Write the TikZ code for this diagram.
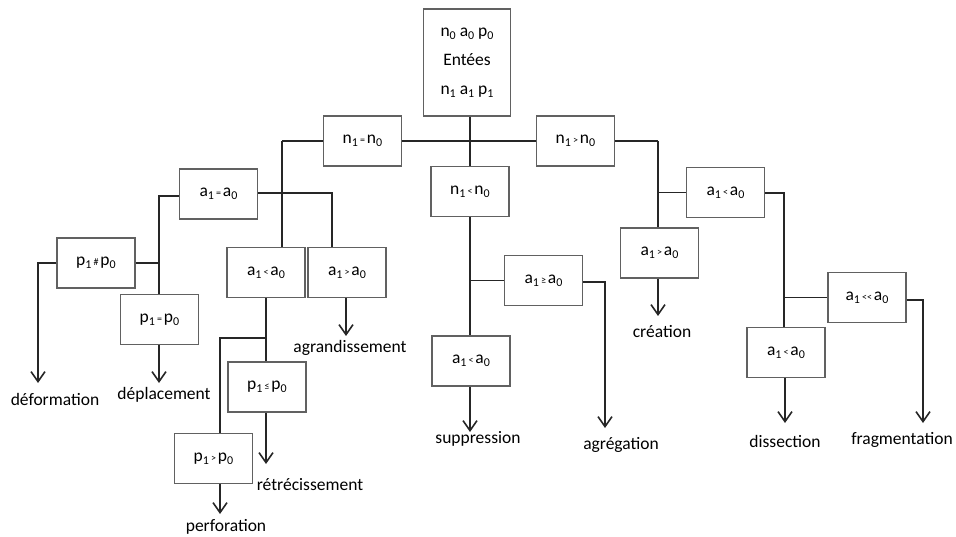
\documentclass[tikz,border=0pt]{standalone}
\usepackage{fontspec}
\setmainfont{Carlito}
\usetikzlibrary{arrows.meta}
\newcommand\lo[1]{\raisebox{-0.35ex}{\fontsize{12}{12}\selectfont #1}}
\newcommand\rl[1]{\hspace{2pt}{\fontsize{10}{10}\selectfont #1}\hspace{2pt}}
\begin{document}
\begin{tikzpicture}[x=1pt,y=-1pt,
  box/.style={draw=black!62,line width=1.4pt,minimum width=78pt,minimum height=50pt,inner sep=0pt,font=\fontsize{17.5}{20}\selectfont},
  lab/.style={font=\fontsize{17.5}{20}\selectfont,inner sep=0pt},
  conn/.style={line width=1.8pt,draw=black!85},
  arr/.style={conn,-{Straight Barb[length=10pt,width=14pt,line width=1.6pt]}}]
\useasboundingbox (0,0) rectangle (956,537);
% boxes
\node[box,minimum width=87pt,minimum height=107pt,align=center,font=\fontsize{17.5}{29}\selectfont] (root) at (467,62.5) {n\lo{0} a\lo{0} p\lo{0}\\Entées\\n\lo{1} a\lo{1} p\lo{1}};
\node[box] (n1eq) at (362.5,141) {n\lo{1}\rl{=}n\lo{0}};
\node[box] (n1gt) at (575.5,141) {n\lo{1}\rl{>}n\lo{0}};
\node[box] (n1lt) at (470,191.5) {n\lo{1}\rl{<}n\lo{0}};
\node[box] (a1eq) at (218.5,194) {a\lo{1}\rl{=}a\lo{0}};
\node[box] (a1lt) at (266,272.5) {a\lo{1}\rl{<}a\lo{0}};
\node[box] (a1gt) at (347,272.5) {a\lo{1}\rl{>}a\lo{0}};
\node[box] (p1ne) at (96,263) {p\lo{1}\rl{\#}p\lo{0}};
\node[box] (p1eq) at (159.5,319.5) {p\lo{1}\rl{=}p\lo{0}};
\node[box] (p1le) at (267,387) {p\lo{1}\rl{≤}p\lo{0}};
\node[box] (p1gt) at (213.5,458.5) {p\lo{1}\rl{>}p\lo{0}};
\node[box] (a1ge) at (543.5,280.5) {a\lo{1}\rl{≥}a\lo{0}};
\node[box] (a1ltm) at (471,361) {a\lo{1}\rl{<}a\lo{0}};
\node[box] (a1ltr) at (725.5,192.5) {a\lo{1}\rl{<}a\lo{0}};
\node[box] (a1gtr) at (659.5,253) {a\lo{1}\rl{>}a\lo{0}};
\node[box] (a1ll) at (867,297.5) {a\lo{1}\rl{<{}<}a\lo{0}};
\node[box] (a1ltr2) at (786,352.5) {a\lo{1}\rl{<}a\lo{0}};
% labels
\node[lab] (deform) at (55,399) {déformation};
\node[lab] (deplac) at (164,395) {déplacement};
\node[lab] (agrand) at (350,348) {agrandissement};
\node[lab] (retrec) at (310,485) {rétrécissement};
\node[lab] (perfor) at (226,527) {perforation};
\node[lab] (suppr) at (478,439) {suppression};
\node[lab] (agreg) at (621,445) {agrégation};
\node[lab] (creat) at (662,332) {création};
\node[lab] (dissec) at (785,441) {dissection};
\node[lab] (fragm) at (902,440) {fragmentation};
% junction coordinates
\coordinate (L) at (282,141);
\coordinate (R) at (658,141);
\coordinate (jA) at (332,193);
\coordinate (jB) at (159,196);
\coordinate (jC) at (38,263);
\coordinate (jD) at (266,338);
\coordinate (jE) at (220,338);
\coordinate (jF) at (605,282);
\coordinate (jG) at (784,193);
\coordinate (jH) at (923,300);
% arrow ends
\coordinate (eDeform) at (38,383);
\coordinate (eDeplac) at (159,383);
\coordinate (eAgrand) at (346,336);
\coordinate (eRetrec) at (266,464);
\coordinate (ePerfor) at (220,514);
\coordinate (eSuppr) at (470,432);
\coordinate (eAgreg) at (605,428);
\coordinate (eCreat) at (658,316);
\coordinate (eDissec) at (785,423);
\coordinate (eFragm) at (923,423);
% connectors
\draw[conn] (root.south -| n1lt.north) -- (n1lt.north);
\draw[conn] (L) -- (n1eq.west);
\draw[conn] (n1eq.east) -- (n1gt.west);
\draw[conn] (n1gt.east) -- (R);
\draw[conn] (L) -- (L |- a1lt.north);
\draw[conn] (a1eq.east |- jA) -- (jA) -- (jA |- a1gt.north);
\draw[conn] (a1eq.west |- jB) -- (jB) -- (p1eq.north -| jB);
\draw[conn] (p1ne.east) -- (p1ne.east -| jB);
\draw[arr] (p1ne.west) -- (jC) -- (eDeform);
\draw[arr] (p1eq.south -| eDeplac) -- (eDeplac);
\draw[arr] (a1gt.south -| eAgrand) -- (eAgrand);
\draw[conn] (a1lt.south -| jD) -- (p1le.north -| jD);
\draw[conn] (jD) -- (jE) -- (jE |- p1gt.north);
\draw[arr] (p1le.south -| eRetrec) -- (eRetrec);
\draw[arr] (p1gt.south -| ePerfor) -- (ePerfor);
\draw[conn] (n1lt.south) -- (n1lt.south |- a1ltm.north);
\draw[conn] (n1lt.south |- a1ge.west) -- (a1ge.west);
\draw[arr] (a1ge.east |- jF) -- (jF) -- (eAgreg);
\draw[arr] (a1ltm.south -| eSuppr) -- (eSuppr);
\draw[conn] (R) -- (R |- a1gtr.north);
\draw[conn] (R |- a1ltr.west) -- (a1ltr.west);
\draw[arr] (a1gtr.south -| eCreat) -- (eCreat);
\draw[conn] (a1ltr.east |- jG) -- (jG) -- (jG |- a1ltr2.north);
\draw[conn] (jG |- a1ll.west) -- (a1ll.west);
\draw[arr] (a1ll.east |- jH) -- (jH) -- (eFragm);
\draw[arr] (a1ltr2.south -| eDissec) -- (eDissec);
\end{tikzpicture}
\end{document}
